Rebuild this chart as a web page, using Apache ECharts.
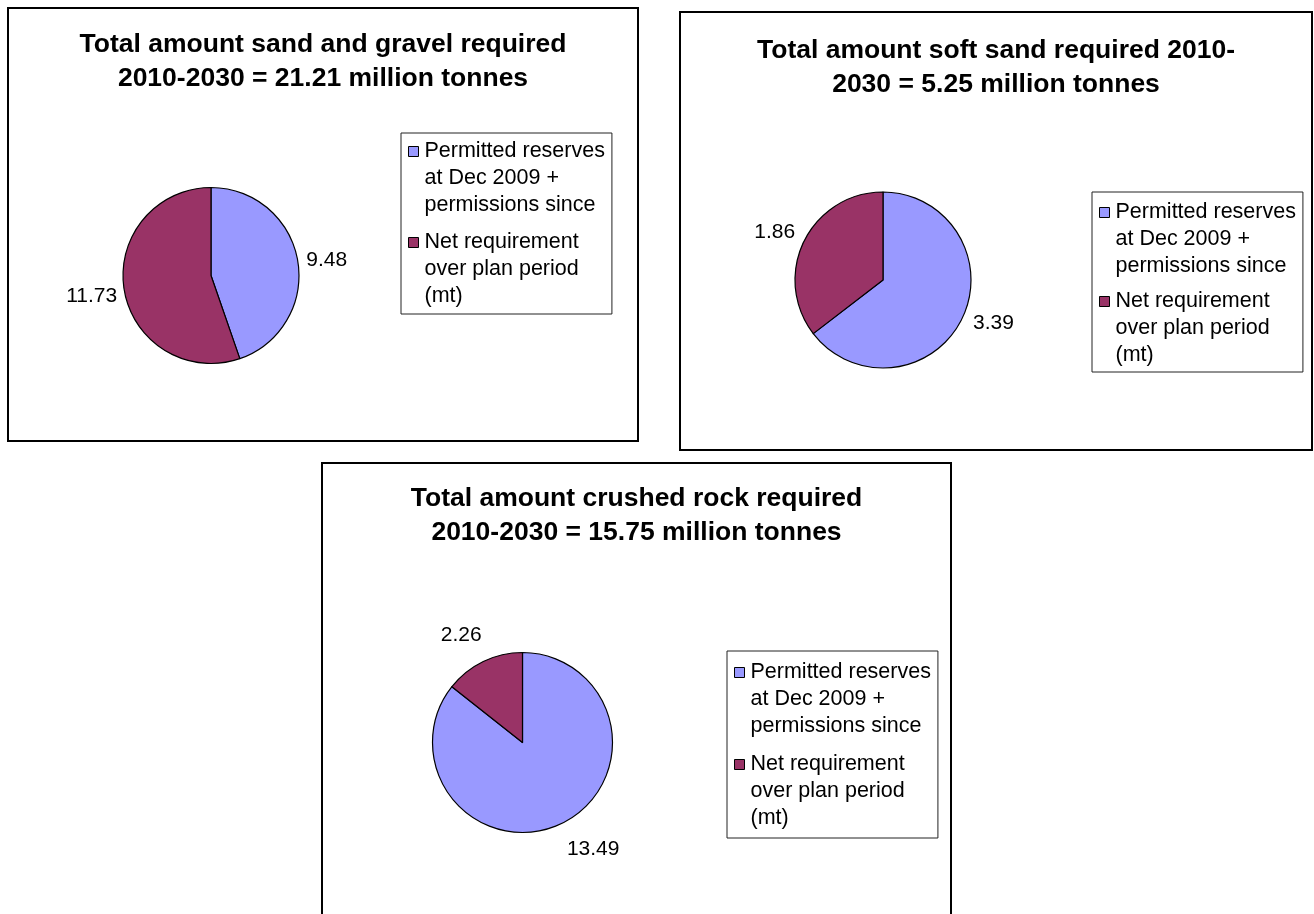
<!DOCTYPE html>
<html>
<head>
<meta charset="utf-8">
<script src="https://cdn.jsdelivr.net/npm/echarts@6/dist/echarts.min.js"></script>
<style>
  html, body { margin: 0; padding: 0; background: #fff; }
  #chart { width: 1314px; height: 914px; }
</style>
</head>
<body>
<div id="chart"></div>
<script>
// ---- Data ----
const categories = [
  'Permitted reserves\nat Dec 2009 +\npermissions since',
  'Net requirement\nover plan period\n(mt)'
];
const sandGravelValues = [9.48, 11.73];
const softSandValues = [3.39, 1.86];
const crushedRockValues = [13.49, 2.26];
const chartTitles = [
  'Total amount sand and gravel required\n2010-2030 = 21.21 million tonnes',
  'Total amount soft sand required 2010-\n2030 = 5.25 million tonnes',
  'Total amount crushed rock required\n2010-2030 = 15.75 million tonnes'
];

// ---- Layout / style (not data) ----
const colors = ['#9999FF', '#993366'];
const FONT = "'Liberation Sans', Arial, sans-serif";
const panels = [
  { box: [8, 8, 630, 433],  titleX: 323,   titleY: 28,  center: [211, 275.5], r: 88,
    legend: [401, 133], legendPad: [4.5, 7, 3.5, 7], legendGap: 9,
    labelLen: [5.5, 35.5], labelDist: [3, -28], values: sandGravelValues },
  { box: [680, 12, 632, 438], titleX: 996,  titleY: 34,  center: [883, 280], r: 88,
    legend: [1092, 192], legendPad: [6.5, 7, 2.5, 7], legendGap: 7,
    labelLen: [9, 21], labelDist: [3, -10], values: softSandValues },
  { box: [322, 463, 629, 480], titleX: 636.5, titleY: 482, center: [522.5, 742.5], r: 90,
    legend: [727, 651], legendPad: [7.5, 7, 5.5, 7], legendGap: 10,
    labelLen: [28, 29], labelDist: [-7, -11], values: crushedRockValues }
];

// legend icon: 11x81 box, visible square aligned with first text line
const legendIcon = 'path://M0,0M11,81M0,8.5L10,8.5L10,18.5L0,18.5Z';

const chart = echarts.init(document.getElementById('chart'), null, { renderer: 'canvas' });

const option = {
  animation: false,
  backgroundColor: '#ffffff',
  textStyle: { fontFamily: FONT },
  title: panels.map((p, i) => ({
    text: chartTitles[i],
    left: p.titleX,
    top: p.titleY,
    textAlign: 'center',
    padding: 0,
    textStyle: { fontFamily: FONT, fontSize: 26.5, fontWeight: 'bold', color: '#000', lineHeight: 34 }
  })),
  legend: panels.map((p) => ({
    data: categories,
    orient: 'vertical',
    left: p.legend[0],
    top: p.legend[1],
    padding: p.legendPad,
    itemGap: p.legendGap,
    itemWidth: 11,
    itemHeight: 81,
    itemTextGap: 8,
    icon: legendIcon,
    selectedMode: false,
    borderColor: '#222',
    borderWidth: 1,
    backgroundColor: '#fff',
    itemStyle: { borderColor: '#000', borderWidth: 1 },
    textStyle: { fontFamily: FONT, fontSize: 21.5, color: '#000', lineHeight: 27 }
  })),
  graphic: panels.map((p) => ({
    type: 'rect',
    shape: { x: p.box[0], y: p.box[1], width: p.box[2], height: p.box[3] },
    style: { fill: 'none', stroke: '#000', lineWidth: 2 },
    silent: true,
    z: -1
  })),
  series: panels.map((p) => ({
    type: 'pie',
    center: p.center,
    radius: p.r,
    startAngle: 90,
    clockwise: true,
    avoidLabelOverlap: false,
    silent: true,
    color: colors,
    itemStyle: { borderColor: '#000', borderWidth: 1.2 },
    label: {
      show: true,
      position: 'outside',
      formatter: '{c}',
      fontFamily: FONT,
      fontSize: 21,
      color: '#000'
    },
    labelLine: { show: false, length: 10, length2: 0 },
    data: p.values.map((v, k) => ({
      name: categories[k],
      value: v,
      itemStyle: { color: colors[k] },
      labelLine: { show: false, length: p.labelLen[k], length2: 0 },
      label: { distanceToLabelLine: p.labelDist[k] }
    }))
  }))
};

chart.setOption(option);
</script>
</body>
</html>
